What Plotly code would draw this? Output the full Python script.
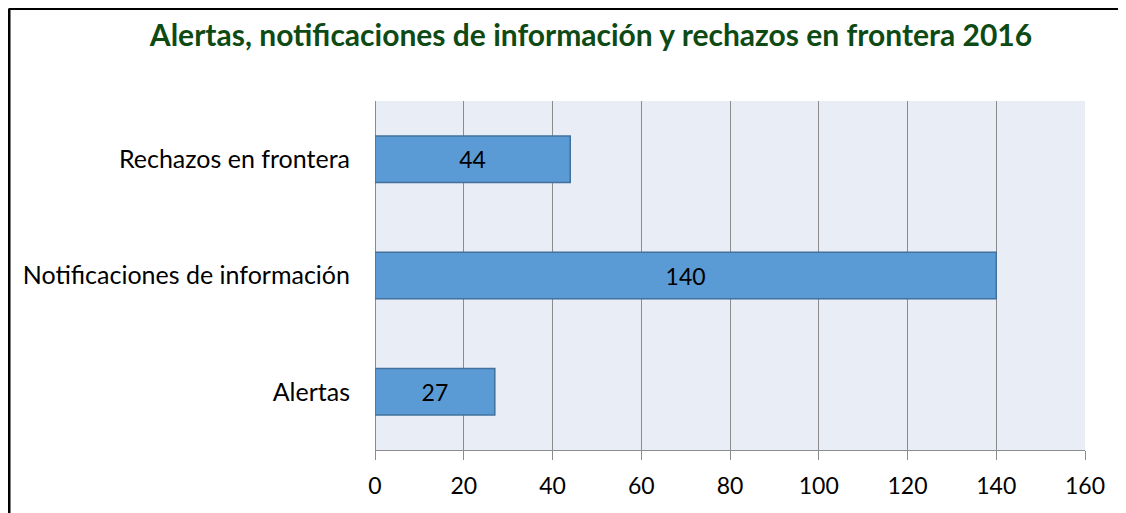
import plotly.graph_objects as go

categorias = ["Alertas", "Notificaciones de información", "Rechazos en frontera"]
valores = [27, 140, 44]
ticks_x = [0, 20, 40, 60, 80, 100, 120, 140, 160]

# la página añade 8 px de margen al cuerpo
W, H = 1118, 505
L, R, T, B = 367, 41, 93, 63
pw, ph = W - L - R, H - T - B

fig = go.Figure(go.Bar(
    y=categorias,
    x=valores,
    orientation="h",
    width=0.4,
    marker=dict(color="#5B9BD5", line=dict(color="#41719C", width=1.5)),
    text=valores,
    textposition="inside",
    insidetextanchor="middle",
    textangle=0,
    textfont=dict(family="Lato", size=23, color="#000000"),
    cliponaxis=False,
))

# marco negro (solo arriba e izquierda visibles)
bx = (1 - L) / pw
by = 1 + (T - 0.5) / ph
fig.add_shape(type="line", xref="paper", yref="paper", x0=bx, y0=by, x1=1.2, y1=by,
              line=dict(color="black", width=3))
fig.add_shape(type="line", xref="paper", yref="paper", x0=bx, y0=by, x1=bx, y1=-0.3,
              line=dict(color="black", width=3))

fig.update_layout(
    width=W, height=H,
    margin=dict(l=L, r=R, t=T, b=B),
    paper_bgcolor="white",
    plot_bgcolor="#E9EDF6",
    showlegend=False,
    title=dict(
        text="<b>Alertas, notificaciones de información y rechazos en frontera 2016</b>",
        x=(583 - L) / pw, xref="paper", xanchor="center",
        y=1 - 27 / H, yref="container", yanchor="middle",
        font=dict(family="Lato", size=30, color="#0E4A14"),
    ),
    font=dict(family="Lato", size=20, color="#000000"),
)
fig.update_xaxes(
    range=[0, 160], tickvals=ticks_x, showgrid=True, gridcolor="#8C8C8C", gridwidth=1,
    zeroline=True, zerolinecolor="#8C8C8C", zerolinewidth=1,
    showline=True, linecolor="#8C8C8C", linewidth=1,
    ticks="outside", ticklen=9, tickcolor="#8C8C8C", ticklabelstandoff=6,
    tickfont=dict(family="Lato", size=23, color="#000000"),
    fixedrange=True,
)
fig.update_yaxes(
    showgrid=False, ticks="", ticklabelstandoff=24,
    tickfont=dict(family="Lato", size=25, color="#000000"),
    fixedrange=True,
)

fig.write_html("out.html")
